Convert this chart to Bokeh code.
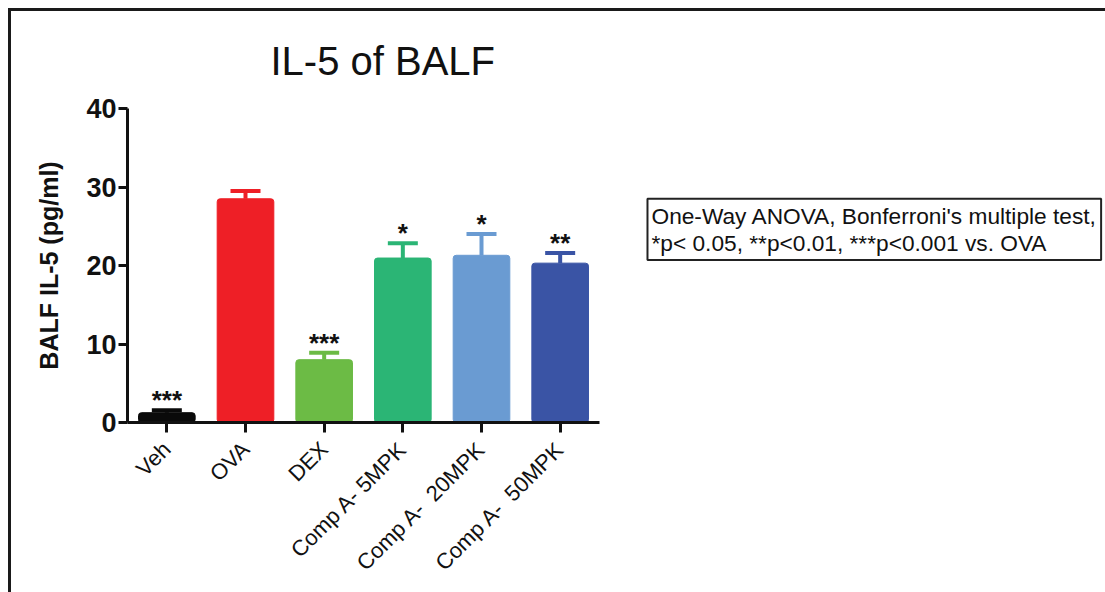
import math
from bokeh.plotting import figure
from bokeh.models import ColumnDataSource, Whisker, TeeHead, Label, FixedTicker, Range1d
from bokeh.core.properties import value
from bokeh.embed import file_html
from bokeh.resources import INLINE

categories = ["Veh", "OVA", "DEX", "Comp A- 5MPK", "Comp A-\u00a0 20MPK", "Comp A-\u00a0 50MPK"]
means = [1.25, 28.5, 8.0, 20.95, 21.3, 20.3]
sems = [0.3, 1.0, 0.9, 1.9, 2.7, 1.3]
stars = ["***", "", "***", "*", "*", "**"]
colors = ["#0a0a0a", "#ee1f26", "#6cbb45", "#2bb575", "#6a9bd2", "#3a54a5"]
y_ticks = [0, 10, 20, 30, 40]
title_text = "IL-5 of BALF"
y_label = "BALF IL-5 (pg/ml)"
note_text = "One-Way ANOVA, Bonferroni's multiple test,\n*p< 0.05, **p<0.01, ***p<0.001 vs. OVA"

FONT = "Liberation Sans"

n = len(categories)
xs = [i + 0.5 for i in range(n)]

src = ColumnDataSource(dict(
    x=xs,
    mean=means,
    upper=[m + s for m, s in zip(means, sems)],
    stars=stars,
    color=colors,
))

FRAME_W = 976
AXIS_W = 472  # pixels spanned by the categorical axis
p = figure(
    x_range=Range1d(0, n * FRAME_W / AXIS_W), y_range=(0, 40),
    frame_width=FRAME_W, frame_height=314,
    min_border_left=116, min_border_right=2,
    min_border_top=97, min_border_bottom=170,
    output_backend="svg", toolbar_location=None,
    title=title_text,
)
p.styles = {"margin-left": "8px", "margin-top": "8px",
            "border-top": "3px solid #1a1a1a", "border-left": "3px solid #1a1a1a"}

p.title.text_font = FONT
p.title.text_font_size = "40px"
p.title.text_font_style = "normal"
p.title.text_color = "#111111"
p.title.align = "left"
p.title.offset = 143
p.title.standoff = 51

p.vbar(x="x", top="mean", width=0.72, color="color", source=src, border_radius=3)

w = Whisker(base="x", upper="upper", lower="mean", source=src, dimension="height",
            line_color="color", line_width=4,
            upper_head=TeeHead(size=30, line_width=4, line_color="color"),
            lower_head=None)
p.add_layout(w)

p.text(x="x", y="upper", text="stars", source=src, y_offset=-10,
       text_align="center", text_baseline="alphabetic",
       text_font=value(FONT), text_font_size="26px", text_font_style="bold",
       text_color="#111111")

p.grid.visible = False
p.outline_line_color = None

for ax in (p.xaxis[0], p.yaxis[0]):
    ax.axis_line_width = 3
    ax.axis_line_color = "#111111"
    ax.major_tick_line_width = 3
    ax.major_tick_line_color = "#111111"
    ax.major_tick_in = 0
    ax.minor_tick_line_color = None
    ax.major_label_text_font = FONT
    ax.major_label_text_color = "#111111"

p.yaxis.ticker = FixedTicker(ticks=y_ticks)
p.yaxis.major_tick_out = 9
p.yaxis.major_label_text_font_size = "27px"
p.yaxis.major_label_text_font_style = "bold"
p.yaxis.major_label_standoff = 2
p.yaxis.axis_label = y_label
p.yaxis.axis_label_text_font = FONT
p.yaxis.axis_label_text_font_size = "25px"
p.yaxis.axis_label_text_font_style = "bold"
p.yaxis.axis_label_text_color = "#111111"
p.yaxis.axis_label_standoff = 20

p.xaxis.ticker = FixedTicker(ticks=xs)
p.xaxis.major_label_overrides = {x: c for x, c in zip(xs, categories)}
p.xaxis.bounds = (0, n)
p.xaxis.major_tick_out = 10
p.xaxis.major_label_text_font_size = "22px"
p.xaxis.major_label_text_font_style = "normal"
p.xaxis.major_label_orientation = math.pi / 4
p.xaxis.major_label_standoff = 13

note = Label(x=6.61, y=28.5, text=note_text, x_units="data", y_units="data",
             text_font=FONT, text_font_size="22.7px", text_color="#111111",
             text_align="left", text_baseline="top", text_line_height=1.05,
             border_line_color="#222222", border_line_width=2,
             background_fill_color="white", padding=4)
p.add_layout(note)

open("out.html", "w").write(file_html(p, INLINE))
